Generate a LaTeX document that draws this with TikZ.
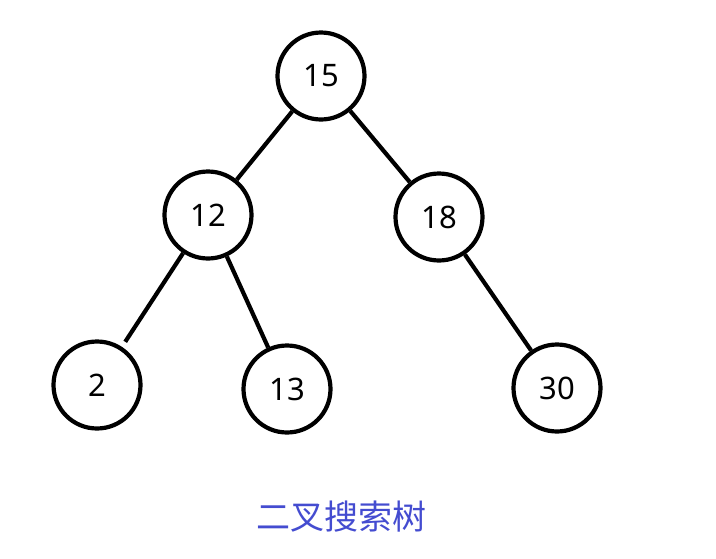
\documentclass[tikz,border=0pt]{standalone}
\usepackage{fontspec}
\setmainfont{Noto Sans}
\newfontfamily\cjk{Noto Sans CJK SC}
\usepackage{xcolor}
\usepackage{tikz}
\usetikzlibrary{positioning}
\definecolor{capblue}{RGB}{68,76,208}
\tikzset{
  keynode/.style={draw, circle, line width=4.2pt, minimum size=87pt, inner sep=0pt,
                  font=\fontsize{31}{36}\selectfont},
  treeedge/.style={line width=4.2pt}
}

\begin{document}
\begin{tikzpicture}[x=1pt, y=-1pt]
\useasboundingbox (0,0) rectangle (716,558);
\node[keynode] (n15) at (321,76) {15};
\node[keynode] (n12) at (208,215) {12};
\node[keynode] (n18) at (439,217) {18};
\node[keynode] (n2) at (97,385) {2};
\node[keynode] (n13) at (287,389) {13};
\node[keynode] (n30) at (557,388) {30};
\draw[treeedge] (n15) -- (n12);
\draw[treeedge] (n15) -- (n18);
\draw[treeedge, shorten >=6pt] (n12) -- (n2);
\draw[treeedge] (n12) -- (n13);
\draw[treeedge] (n18) -- (n30);
\node[text=capblue, font=\cjk\fontsize{34}{38}\selectfont] (cap) at (341,517) {二叉搜索树};
\end{tikzpicture}
\end{document}
